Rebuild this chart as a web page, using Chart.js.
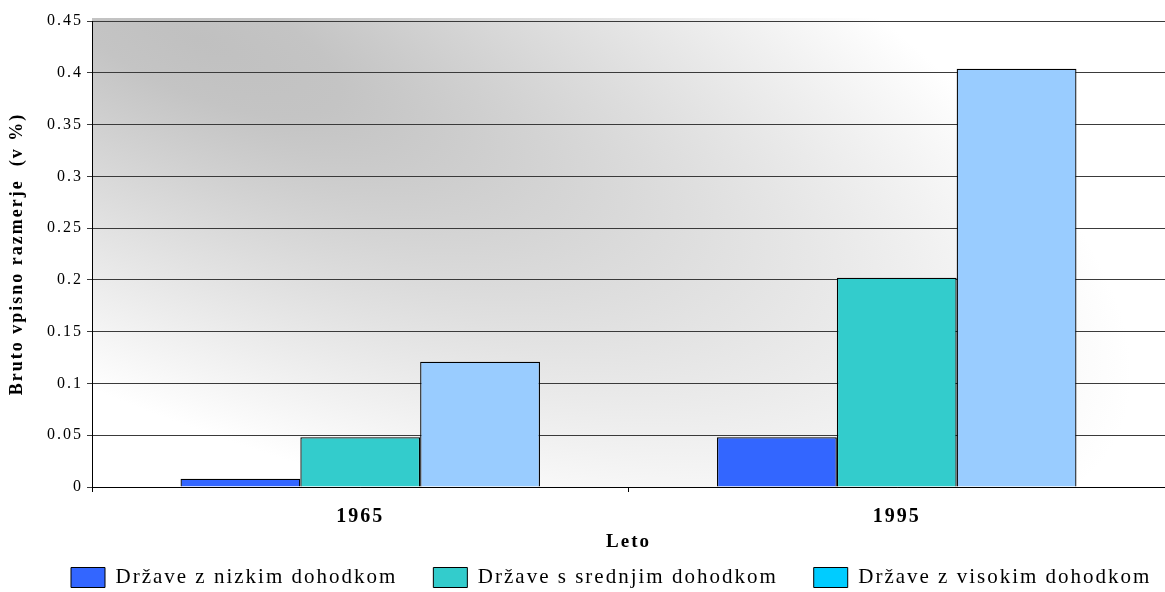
<!DOCTYPE html>
<html>
<head>
<meta charset="utf-8">
<script src="https://cdn.jsdelivr.net/npm/chart.js@4.4.1/dist/chart.umd.min.js"></script>
<style>
  html, body { margin: 0; padding: 0; background: #ffffff; }
  #wrap { width: 1165px; height: 592px; position: relative; }
</style>
</head>
<body>
<div id="wrap"><canvas id="c"></canvas></div>
<script>
// Gross enrolment ratio by income group
const years = ['1965', '1995'];
const seriesNames = ['Države z nizkim dohodkom', 'Države s srednjim dohodkom', 'Države z visokim dohodkom'];
const lowIncome = [0.008, 0.048];
const middleIncome = [0.048, 0.202];
const highIncome = [0.121, 0.404];
const yTickLabels = ['0', '0.05', '0.1', '0.15', '0.2', '0.25', '0.3', '0.35', '0.4', '0.45'];
const barColors = ['#3366FF', '#33CCCC', '#99CCFF'];
const legendColors = ['#3366FF', '#33CCCC', '#00CCFF'];

const SERIF = "'Liberation Serif', 'Times New Roman', serif";

// Slightly tracked-out text everywhere on the canvas
const textTracking = {
  id: 'textTracking',
  beforeLayout(chart) { chart.ctx.letterSpacing = '2px'; },
  beforeDraw(chart) { chart.ctx.letterSpacing = '2px'; }
};

// Grey shading of the plot area, darkest in the upper left corner
const plotShade = {
  id: 'plotShade',
  beforeDraw(chart) {
    const { ctx, chartArea: a } = chart;
    ctx.save();
    ctx.beginPath();
    ctx.rect(a.left, a.top - 3, a.right - a.left, a.bottom - a.top + 3);
    ctx.clip();
    ctx.translate(a.left + 108, a.top + 19);
    ctx.rotate(23 * Math.PI / 180);
    ctx.scale(1, 364 / 1000);
    const g = ctx.createRadialGradient(0, 0, 0, 0, 0, 1000);
    g.addColorStop(0, '#c0c0c0');
    g.addColorStop(0.15, '#c4c4c4');
    g.addColorStop(1, '#ffffff');
    ctx.fillStyle = g;
    ctx.fillRect(-4000, -12000, 8000, 24000);
    ctx.restore();
  }
};

const seriesValues = [lowIncome, middleIncome, highIncome];

new Chart(document.getElementById('c'), {
  type: 'bar',
  data: {
    labels: years,
    datasets: seriesValues.map((vals, i) => ({
      label: seriesNames[i],
      data: vals,
      backgroundColor: barColors[i],
      borderColor: '#000000',
      borderWidth: 1.3,
      categoryPercentage: 0.67,
      barPercentage: 1.0
    }))
  },
  options: {
    responsive: true,
    maintainAspectRatio: false,
    animation: false,
    devicePixelRatio: 1,
    layout: { padding: { left: 35, right: -40, top: 21, bottom: -6 } },
    plugins: {
      tooltip: { enabled: false },
      legend: {
        position: 'bottom',
        align: 'start',
        labels: {
          boxWidth: 34,
          boxHeight: 20,
          padding: 36,
          color: '#000000',
          font: { family: SERIF, size: 21 },
          generateLabels(chart) {
            const items = Chart.defaults.plugins.legend.labels.generateLabels(chart);
            return items.map((it, i) => Object.assign(it, {
              fillStyle: legendColors[i],
              strokeStyle: '#000000',
              lineWidth: 1
            }));
          }
        }
      }
    },
    scales: {
      x: {
        grid: { display: true, drawOnChartArea: false, drawTicks: true, tickLength: 5, color: '#000000', offset: true },
        border: { color: '#000000', width: 1 },
        ticks: { color: '#000000', padding: 13, font: { family: SERIF, size: 20, weight: 'bold' } },
        title: {
          display: true,
          text: 'Leto',
          color: '#000000',
          font: { family: SERIF, size: 19, weight: 'bold' },
          padding: { top: 0, bottom: -22 }
        },
        afterFit(scale) { scale.height = 44; }
      },
      y: {
        min: 0,
        max: 0.45,
        grid: { color: '#3a3a3a', lineWidth: 1, drawTicks: true, tickLength: 5 },
        border: { color: '#000000', width: 1 },
        ticks: {
          stepSize: 0.05,
          color: '#000000',
          padding: 4,
          font: { family: SERIF, size: 16 },
          callback: (v, i) => yTickLabels[i]
        },
        title: {
          display: true,
          text: 'Bruto vpisno razmerje  (v %)',
          color: '#000000',
          font: { family: SERIF, size: 18, weight: 'bold' },
          padding: { top: -28, bottom: 0 }
        },
        afterFit(scale) { scale.width = 57; }
      },
      // empty right-hand margin box, keeps the plot flush with the canvas edge
      yMargin: {
        type: 'linear',
        position: 'right',
        display: true,
        grid: { display: false },
        border: { display: false },
        ticks: { display: false },
        afterFit(scale) { scale.width = 40; }
      }
    }
  },
  plugins: [textTracking, plotShade]
});
</script>
</body>
</html>
